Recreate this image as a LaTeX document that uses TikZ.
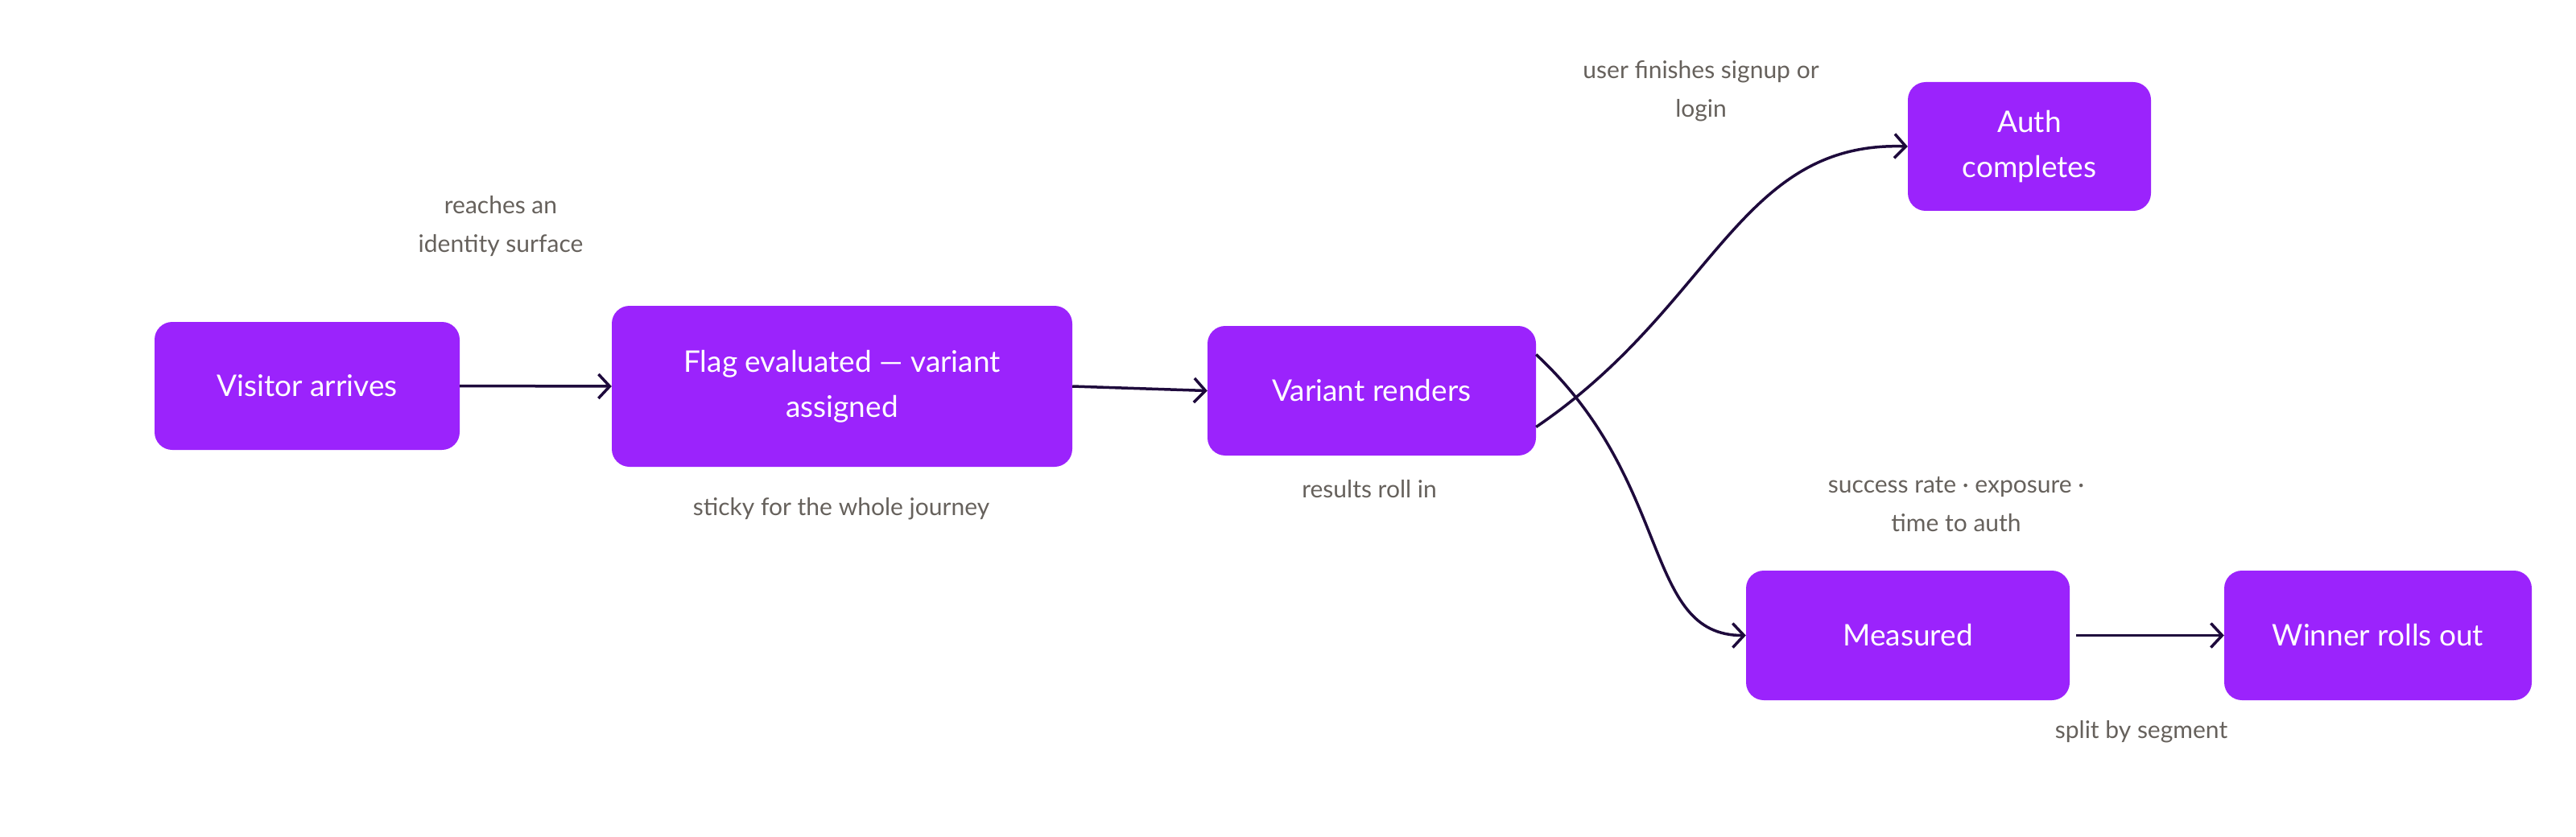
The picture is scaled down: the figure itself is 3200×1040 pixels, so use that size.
\documentclass[tikz,border=0pt]{standalone}
\usepackage{fontspec}
\setmainfont{Lato}
\usetikzlibrary{arrows.meta}
\definecolor{boxc}{RGB}{155,35,252}
\definecolor{labc}{RGB}{102,97,92}
\definecolor{arrc}{RGB}{30,10,60}
\tikzset{
  fbox/.style={fill=boxc,rounded corners=22pt,text=white,align=center,inner sep=0pt,
    font=\fontsize{37}{56}\selectfont},
  lab/.style={text=labc,align=center,font=\fontsize{30}{48}\selectfont},
  conn/.style={draw=arrc,line width=3.5pt,-{Straight Barb[length=14pt,width=30pt,line width=3.5pt]}}
}
\begin{document}
\begin{tikzpicture}[x=1pt,y=-1pt]
\useasboundingbox (0,0) rectangle (3200,1040);
\node[fbox,minimum width=379pt,minimum height=159pt] (vis) at (381.5,479.5) {Visitor arrives};
\node[fbox,minimum width=572pt,minimum height=200pt] (flag) at (1046,480) {Flag evaluated — variant\\assigned};
\node[fbox,minimum width=408pt,minimum height=161pt] (var) at (1704,485.5) {Variant renders};
\node[fbox,minimum width=302pt,minimum height=160pt] (auth) at (2521,182) {Auth\\completes};
\node[fbox,minimum width=402pt,minimum height=161pt] (meas) at (2370,789.5) {Measured};
\node[fbox,minimum width=382pt,minimum height=161pt] (win) at (2954,789.5) {Winner rolls out};
\node[lab] (l1) at (622,281) {reaches an\\identity surface};
\node[lab] (l2) at (1045,632) {sticky for the whole journey};
\node[lab] (l3) at (1701,608) {results roll in};
\node[lab] (l4) at (2113,113) {user finishes signup or\\login};
\node[lab] (l5) at (2430,627) {success rate · exposure ·\\time to auth};
\node[lab] (l6) at (2660,909) {split by segment};
\draw[conn] (vis.east) -- (flag.west);
\draw[conn] (flag.east) -- (var.west);
\coordinate (vs1) at ([yshift=-45pt]var.east);
\coordinate (vs2) at ([yshift=45pt]var.east);
\draw[conn] (vs1) .. controls (2130,380) and (2160,175) .. (auth.west);
\draw[conn] (vs2) .. controls (2080,600) and (2040,790) .. (meas.west);
\draw[conn] ([xshift=8pt]meas.east) -- (win.west);
\end{tikzpicture}
\end{document}
